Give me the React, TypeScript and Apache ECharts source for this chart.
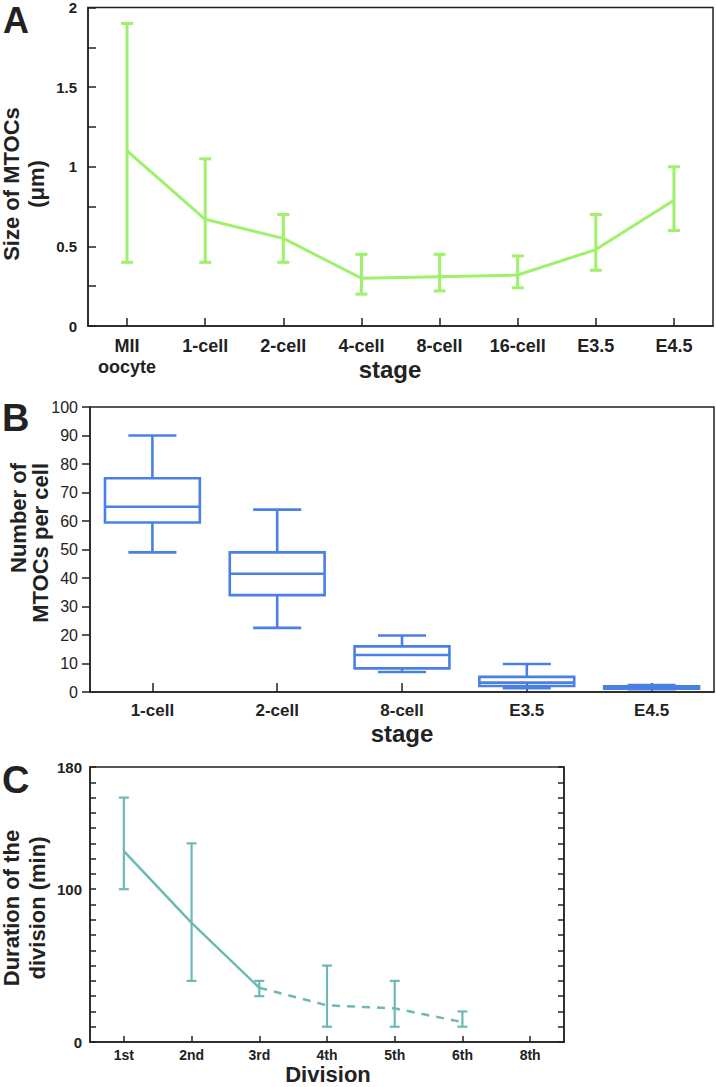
import React, { useEffect, useRef } from "react";
import * as echarts from "echarts";

// Panel A: size of MTOCs per stage (mean with error bars)
const stagesA = ["MII\noocyte", "1-cell", "2-cell", "4-cell", "8-cell", "16-cell", "E3.5", "E4.5"];
const sizeMean = [1.1, 0.67, 0.55, 0.3, 0.31, 0.32, 0.48, 0.79];
const sizeLow = [0.4, 0.4, 0.4, 0.2, 0.22, 0.24, 0.35, 0.6];
const sizeHigh = [1.9, 1.05, 0.7, 0.45, 0.45, 0.44, 0.7, 1.0];
const ticksA = [0, 0.5, 1, 1.5, 2];

// Panel B: number of MTOCs per cell (box plots)
const stagesB = ["1-cell", "2-cell", "8-cell", "E3.5", "E4.5"];
const mtocMin = [49, 22.5, 7, 1.3, 1];
const mtocQ1 = [59.5, 34, 8.3, 2.1, 1.2];
const mtocMedian = [65, 41.5, 13, 3.3, 1.6];
const mtocQ3 = [75, 49, 16, 5.3, 2];
const mtocMax = [90, 64, 19.8, 9.8, 2.4];

// Panel C: duration of the division
const divisions = ["1st", "2nd", "3rd", "4th", "5th", "6th", "8th"];
const durMean = [125, 78, 35.5, 24, 22, 13];
const durLow = [100, 40, 30, 10, 10, 10];
const durHigh = [160, 130, 40, 50, 40, 20];
const ticksC = [0, 100, 180];
const lastSolidIndex = 2;

const INK = "#222";
const GREEN = "#9ff06a";
const BLUE = "#4a80e6";
const TEAL = "#6cb9b5";
const SANS = "'Liberation Sans', Arial, Helvetica, sans-serif";

function errorBarRender(color: string, capW: number, lw: number) {
  return (params: any, api: any) => {
    const x = api.value(0);
    const lo = api.coord([x, api.value(1)]);
    const hi = api.coord([x, api.value(2)]);
    const hw = capW / 2;
    const style = { stroke: color, lineWidth: lw };
    return {
      type: "group",
      children: [
        { type: "line", shape: { x1: lo[0], y1: lo[1], x2: hi[0], y2: hi[1] }, style },
        { type: "line", shape: { x1: lo[0] - hw, y1: lo[1], x2: lo[0] + hw, y2: lo[1] }, style },
        { type: "line", shape: { x1: hi[0] - hw, y1: hi[1], x2: hi[0] + hw, y2: hi[1] }, style },
      ],
    };
  };
}

function boxRender(params: any, api: any) {
  const i = api.value(0);
  const pMin = api.coord([i, api.value(1)]);
  const pQ1 = api.coord([i, api.value(2)]);
  const pMed = api.coord([i, api.value(3)]);
  const pQ3 = api.coord([i, api.value(4)]);
  const pMax = api.coord([i, api.value(5)]);
  const band = api.size([1, 0])[0];
  const bw = band * 0.76;
  const cw = band * 0.385;
  const cx = pMed[0];
  const style = { stroke: BLUE, lineWidth: 2.6, fill: "none" };
  return {
    type: "group",
    children: [
      { type: "line", shape: { x1: cx, y1: pQ3[1], x2: cx, y2: pMax[1] }, style },
      { type: "line", shape: { x1: cx, y1: pQ1[1], x2: cx, y2: pMin[1] }, style },
      { type: "line", shape: { x1: cx - cw / 2, y1: pMax[1], x2: cx + cw / 2, y2: pMax[1] }, style },
      { type: "line", shape: { x1: cx - cw / 2, y1: pMin[1], x2: cx + cw / 2, y2: pMin[1] }, style },
      { type: "rect", shape: { x: cx - bw / 2, y: pQ3[1], width: bw, height: pQ1[1] - pQ3[1] }, style },
      { type: "line", shape: { x1: cx - bw / 2, y1: pMed[1], x2: cx + bw / 2, y2: pMed[1] }, style },
    ],
  };
}

const axisLine = { show: true, lineStyle: { color: INK, width: 1.5 } };

function title(text: string, x: number, y: number, size: number, opts: any = {}) {
  return {
    type: "text",
    x,
    y,
    rotation: opts.rotation || 0,
    style: {
      text,
      fill: INK,
      font: `bold ${size}px ${SANS}`,
      align: opts.align || "center",
      verticalAlign: "middle",
    },
  };
}

export default function App() {
  const ref = useRef<HTMLDivElement>(null);
  useEffect(() => {
    if (!ref.current) return;
    const chart = echarts.init(ref.current, undefined, { renderer: "svg" });
    const R = Math.PI / 2;
    const option: any = {
      animation: false,
      backgroundColor: "#fff",
      grid: [
        { left: 88, top: 5, width: 625, height: 321, show: true, borderColor: INK, borderWidth: 1.5 },
        { left: 90, top: 407, width: 624, height: 285, show: true, borderColor: INK, borderWidth: 1.5 },
        { left: 90, top: 767, width: 474, height: 275, show: true, borderColor: INK, borderWidth: 1.5 },
      ],
      xAxis: [
        {
          type: "category", gridIndex: 0, data: stagesA, boundaryGap: true,
          axisLine,
          axisTick: { show: true, inside: true, alignWithLabel: true, length: 8, lineStyle: { color: INK, width: 1.5 } },
          axisLabel: { interval: 0, margin: 9, color: INK, fontWeight: "bold", fontSize: 18, lineHeight: 21, fontFamily: SANS },
          splitLine: { show: false },
        },
        {
          type: "category", gridIndex: 1, data: stagesB, boundaryGap: true,
          axisLine,
          axisTick: { show: true, inside: true, alignWithLabel: true, length: 9, lineStyle: { color: INK, width: 1.5 } },
          axisLabel: { interval: 0, margin: 10, color: INK, fontWeight: "bold", fontSize: 17, fontFamily: SANS },
          splitLine: { show: false },
        },
        {
          type: "category", gridIndex: 2, data: divisions, boundaryGap: true,
          axisLine,
          axisTick: { show: true, inside: true, alignWithLabel: true, length: 6, lineStyle: { color: INK, width: 1.5 } },
          axisLabel: { interval: 0, margin: 6, color: INK, fontWeight: "bold", fontSize: 14, fontFamily: SANS },
          splitLine: { show: false },
        },
      ],
      yAxis: [
        {
          type: "value", gridIndex: 0, min: 0, max: 2, interval: 0.25,
          axisLine,
          axisTick: { show: true, inside: true, length: 8, lineStyle: { color: INK, width: 1.5 } },
          axisLabel: {
            margin: 11, color: INK, fontWeight: "bold", fontSize: 15, fontFamily: SANS,
            formatter: (v: number) => (ticksA.includes(v) ? String(v) : ""),
          },
          splitLine: { show: false },
        },
        {
          type: "value", gridIndex: 1, min: 0, max: 100, interval: 10,
          axisLine,
          axisTick: { show: true, inside: false, length: 8, lineStyle: { color: INK, width: 1.5 } },
          axisLabel: { margin: 12, color: INK, fontSize: 16, fontFamily: SANS },
          splitLine: { show: false },
        },
        {
          type: "value", gridIndex: 2, min: 0, max: 180, interval: 10,
          axisLine,
          axisTick: { show: true, inside: true, length: 6, lineStyle: { color: INK, width: 1.5 } },
          axisLabel: {
            margin: 8, color: INK, fontWeight: "bold", fontSize: 15, fontFamily: SANS,
            formatter: (v: number) => (ticksC.includes(v) ? String(v) : ""),
          },
          splitLine: { show: false },
        },
        {
          type: "value", gridIndex: 2, min: 0, max: 180, interval: 10, position: "right",
          axisLine,
          axisTick: { show: true, inside: true, length: 6, lineStyle: { color: INK, width: 1.5 } },
          axisLabel: { show: false },
          splitLine: { show: false },
        },
      ],
      series: [
        {
          type: "custom", xAxisIndex: 0, yAxisIndex: 0,
          data: stagesA.map((_, i) => [i, sizeLow[i], sizeHigh[i]]),
          encode: { x: 0, y: [1, 2] },
          renderItem: errorBarRender(GREEN, 12, 3),
          z: 3,
        },
        {
          type: "line", xAxisIndex: 0, yAxisIndex: 0, data: sizeMean,
          symbol: "none", lineStyle: { color: GREEN, width: 3 }, z: 4,
        },
        {
          type: "custom", xAxisIndex: 1, yAxisIndex: 1,
          data: stagesB.map((_, i) => [i, mtocMin[i], mtocQ1[i], mtocMedian[i], mtocQ3[i], mtocMax[i]]),
          encode: { x: 0, y: [1, 2, 3, 4, 5] },
          renderItem: boxRender,
          z: 3,
        },
        {
          type: "custom", xAxisIndex: 2, yAxisIndex: 2,
          data: durMean.map((_, i) => [i, durLow[i], durHigh[i]]),
          encode: { x: 0, y: [1, 2] },
          renderItem: errorBarRender(TEAL, 10, 2.2),
          z: 3,
        },
        {
          type: "line", xAxisIndex: 2, yAxisIndex: 2,
          data: durMean.map((v, i) => (i <= lastSolidIndex ? v : "-")),
          symbol: "none", lineStyle: { color: TEAL, width: 2.5 }, z: 4,
        },
        {
          type: "line", xAxisIndex: 2, yAxisIndex: 2,
          data: durMean.map((v, i) => (i >= lastSolidIndex ? v : "-")),
          symbol: "none", lineStyle: { color: TEAL, width: 2.5, type: [8, 7] }, z: 4,
        },
      ],
      graphic: [
        title("A", 3, 20, 36, { align: "left" }),
        title("B", 2, 418, 38, { align: "left" }),
        title("C", 2, 780, 38, { align: "left" }),
        title("Size of MTOCs", 11, 184, 22, { rotation: R }),
        title("(\u03bcm)", 36, 184, 22, { rotation: R }),
        title("stage", 390, 369, 24),
        title("Number of", 18, 463, 22, { rotation: R, align: "right" }),
        title("MTOCs per cell", 40, 463, 22, { rotation: R, align: "right" }),
        title("stage", 402, 733, 24),
        title("Duration of the", 11, 908, 22, { rotation: R }),
        title("division (min)", 37, 908, 22, { rotation: R }),
        title("Division", 328, 1074, 22),
      ],
    };
    chart.setOption(option);
    return () => chart.dispose();
  }, []);
  return (
    <div
      ref={ref}
      style={{ position: "fixed", left: 0, top: 0, width: 716, height: 1087, background: "#fff" }}
    />
  );
}
